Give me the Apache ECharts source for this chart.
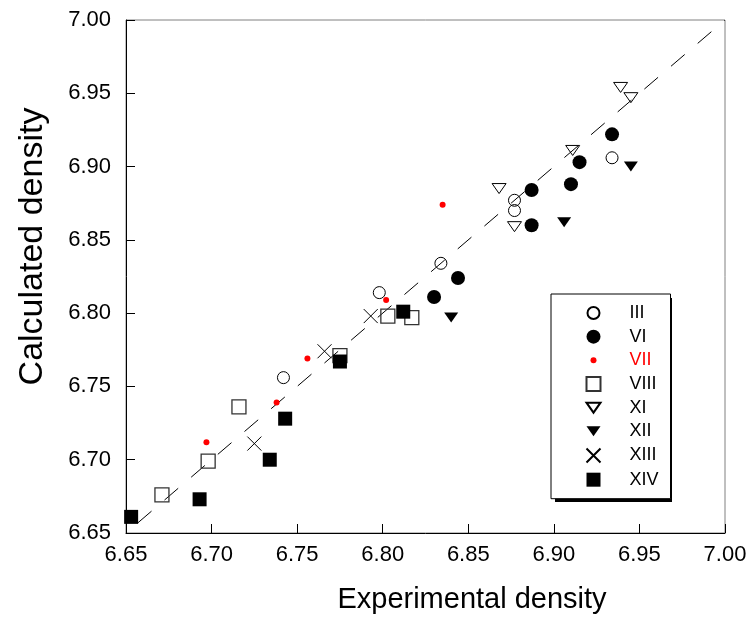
<!DOCTYPE html>
<html>
<head>
<meta charset="utf-8">
<script src="https://cdn.jsdelivr.net/npm/echarts@6/dist/echarts.min.js"></script>
<style>
html,body{margin:0;padding:0;background:#fff;}
#chart{width:751px;height:621px;}
</style>
</head>
<body>
<div id="chart"></div>
<script>
// Axis ticks
const axisMin = 6.65;
const axisMax = 7.00;
const axisStep = 0.05;
const xTitle = 'Experimental density';
const yTitle = 'Calculated density';

// Series names
const seriesNames = ['III', 'VI', 'VII', 'VIII', 'XI', 'XII', 'XIII', 'XIV'];

// Series values: [experimental, calculated]
const dataIII  = [[6.742,6.756],[6.798,6.814],[6.834,6.834],[6.877,6.877],[6.877,6.870],[6.934,6.906]];
const dataVI   = [[6.844,6.824],[6.830,6.811],[6.887,6.860],[6.887,6.884],[6.915,6.903],[6.910,6.888],[6.934,6.922]];
const dataVII  = [[6.697,6.712],[6.738,6.739],[6.756,6.769],[6.802,6.809],[6.835,6.874]];
const dataVIII = [[6.671,6.676],[6.698,6.699],[6.716,6.736],[6.775,6.771],[6.803,6.798],[6.817,6.797]];
const dataXI   = [[6.868,6.885],[6.877,6.859],[6.911,6.911],[6.939,6.954],[6.945,6.947]];
const dataXII  = [[6.840,6.797],[6.906,6.862],[6.945,6.900]];
const dataXIII = [[6.725,6.711],[6.766,6.774],[6.793,6.798]];
const dataXIV  = [[6.653,6.661],[6.693,6.673],[6.734,6.700],[6.743,6.728],[6.775,6.767],[6.812,6.801]];

// Identity line
const identityLine = [[axisMin, axisMin], [axisMax, axisMax]];

const FONT = "'Liberation Sans', Arial, sans-serif";
const triDown = 'path://M0,0M14,14M0,2L14,2L7,12Z';
const crossPath = 'path://M0,0L14,14M14,0L0,14';
const smallDot = 'path://M0,0M14,14M4,7A3,3 0 1,0 10,7A3,3 0 1,0 4,7Z';
const squarePath = 'path://M0,0L14,0L14,14L0,14Z';
const openCircle = 'path://M0,0M14,14M1,7A6,6 0 1,0 13,7A6,6 0 1,0 1,7Z';
const fullCircle = 'path://M0,7A7,7 0 1,0 14,7A7,7 0 1,0 0,7Z';

const chart = echarts.init(document.getElementById('chart'), null, {renderer: 'canvas'});

const tickFmt = v => '{t|' + v.toFixed(2) + '}';
const tickRich = {t: {fontSize: 22, fontFamily: FONT, color: '#000', lineHeight: 24}};

const option = {
  animation: false,
  backgroundColor: '#fff',
  grid: {left: 126, right: 26, top: 20, bottom: 88, show: true, borderColor: '#808080', borderWidth: 1, backgroundColor: 'transparent'},
  xAxis: {
    type: 'value', min: axisMin, max: axisMax, interval: axisStep,
    axisLine: {show: true, onZero: false, lineStyle: {color: '#000', width: 1}},
    axisTick: {show: true, inside: true, length: 9, lineStyle: {color: '#000', width: 1}},
    splitLine: {show: false},
    axisLabel: {show: true, color: '#000', fontSize: 22, fontFamily: FONT, margin: 10, formatter: tickFmt, rich: tickRich},
    name: xTitle, nameLocation: 'middle', nameGap: 52,
    nameTextStyle: {color: '#000', fontSize: 29, fontFamily: FONT, padding: [0, 0, 0, 93]}
  },
  yAxis: {
    type: 'value', min: axisMin, max: axisMax, interval: axisStep,
    axisLine: {show: true, onZero: false, lineStyle: {color: '#000', width: 1}},
    axisTick: {show: true, inside: true, length: 9, lineStyle: {color: '#000', width: 1}},
    splitLine: {show: false},
    axisLabel: {show: true, color: '#000', fontSize: 22, fontFamily: FONT, margin: 15, formatter: tickFmt, rich: tickRich},
    name: yTitle, nameLocation: 'middle', nameGap: 76,
    nameTextStyle: {color: '#000', fontSize: 34, fontFamily: FONT, padding: [0, 0, 0, 60]}
  },
  graphic: [{
    type: 'rect', left: 555, top: 298, z: 3, silent: true,
    shape: {width: 117, height: 204},
    style: {fill: '#000'}
  }],
  legend: {
    orient: 'vertical',
    left: 551,
    top: 294,
    z: 5,
    padding: [10, 12, 10, 33],
    itemWidth: 14,
    itemHeight: 18,
    itemGap: 5.67,
    backgroundColor: '#fff',
    borderColor: '#000',
    borderWidth: 1,
    borderRadius: 0,
    selectedMode: false,
    textStyle: {color: '#000', fontSize: 18, fontFamily: FONT, padding: [0, 0, 0, 24]},
    data: seriesNames.map(n => n === 'VII' ? {name: n, textStyle: {color: '#ff0000'}} : {name: n})
  },
  series: [
    {
      type: 'line', data: identityLine, symbol: 'none', silent: true, z: 1,
      lineStyle: {color: '#000', width: 1, type: [18, 17.1], dashOffset: 19.5}
    },
    {name: 'III', type: 'scatter', data: dataIII, symbol: openCircle, symbolSize: 14, itemStyle: {color: 'rgba(255,255,255,0)', borderColor: '#000', borderWidth: 1, opacity: 1}, clip: false, z: 3},
    {name: 'VI', type: 'scatter', data: dataVI, symbol: fullCircle, symbolSize: 14, itemStyle: {color: '#000', opacity: 1}, clip: false, z: 3},
    {name: 'VII', type: 'scatter', data: dataVII, symbol: smallDot, symbolSize: 14, itemStyle: {color: '#ff0000', opacity: 1}, clip: false, z: 4},
    {name: 'VIII', type: 'scatter', data: dataVIII, symbol: squarePath, symbolSize: 14, itemStyle: {color: 'rgba(255,255,255,0)', borderColor: '#333', borderWidth: 1.3, opacity: 1}, clip: false, z: 3},
    {name: 'XI', type: 'scatter', data: dataXI, symbol: triDown, symbolSize: 14, itemStyle: {color: 'rgba(255,255,255,0)', borderColor: '#000', borderWidth: 1, opacity: 1}, clip: false, z: 3},
    {name: 'XII', type: 'scatter', data: dataXII, symbol: triDown, symbolSize: 14, itemStyle: {color: '#000', opacity: 1}, clip: false, z: 3},
    {name: 'XIII', type: 'scatter', data: dataXIII, symbol: crossPath, symbolSize: 14, itemStyle: {color: 'none', borderColor: '#000', borderWidth: 1, opacity: 1}, clip: false, z: 3},
    {name: 'XIV', type: 'scatter', data: dataXIV, symbol: squarePath, symbolSize: 14, itemStyle: {color: '#000', opacity: 1}, clip: false, z: 3}
  ]
};

chart.setOption(option);
</script>
</body>
</html>
